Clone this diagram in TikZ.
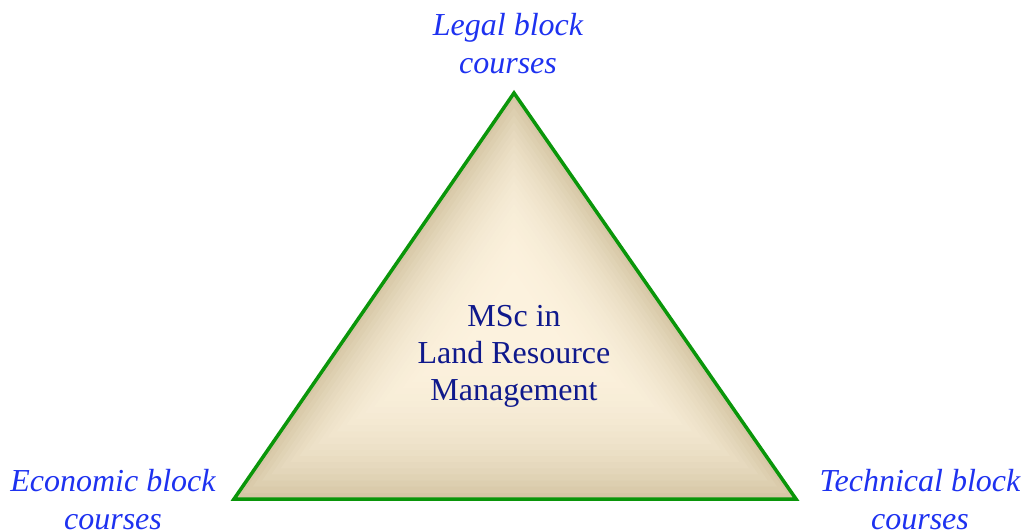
\documentclass[tikz,border=0pt]{standalone}
\usepackage{fontspec}
\setmainfont{Liberation Serif}
\usetikzlibrary{calc}
\definecolor{lblblue}{RGB}{30,50,240}
\definecolor{navy}{RGB}{15,25,140}
\definecolor{edgegreen}{RGB}{10,150,10}
\definecolor{cin}{RGB}{252,242,222}
\definecolor{cout}{RGB}{214,199,166}
\tikzset{
  corner/.style={text=lblblue, align=center, inner sep=0pt, font=\fontsize{32}{38}\selectfont\itshape},
  title/.style={text=navy, align=center, inner sep=0pt, font=\fontsize{32}{37}\selectfont},
  outline/.style={draw=edgegreen, line width=3.5pt, line join=miter}
}
\begin{document}
\begin{tikzpicture}[x=1pt,y=-1pt]
\useasboundingbox (0,0) rectangle (1024,532);
\coordinate (A) at (514,93);
\coordinate (B) at (234,499);
\coordinate (C) at (796,499);
\coordinate (G) at (514,315);
\foreach \i in {0,...,29} {
  \pgfmathsetmacro\f{1-\i/30}
  \pgfmathsetmacro\p{100*(1-\f*\f*\f)}
  \fill[fill=cin!\p!cout] ($(G)!\f!(A)$) -- ($(G)!\f!(B)$) -- ($(G)!\f!(C)$) -- cycle;
}
\draw[outline] (A) -- (B) -- (C) -- cycle;
\node[corner] (legal) at (508,44) {Legal block\\courses};
\node[corner] (econ) at (113,500) {Economic block\\courses};
\node[corner] (tech) at (920,500) {Technical block\\courses};
\node[title] (msc) at (514,356) {MSc in\\Land Resource\\Management};
\end{tikzpicture}
\end{document}
